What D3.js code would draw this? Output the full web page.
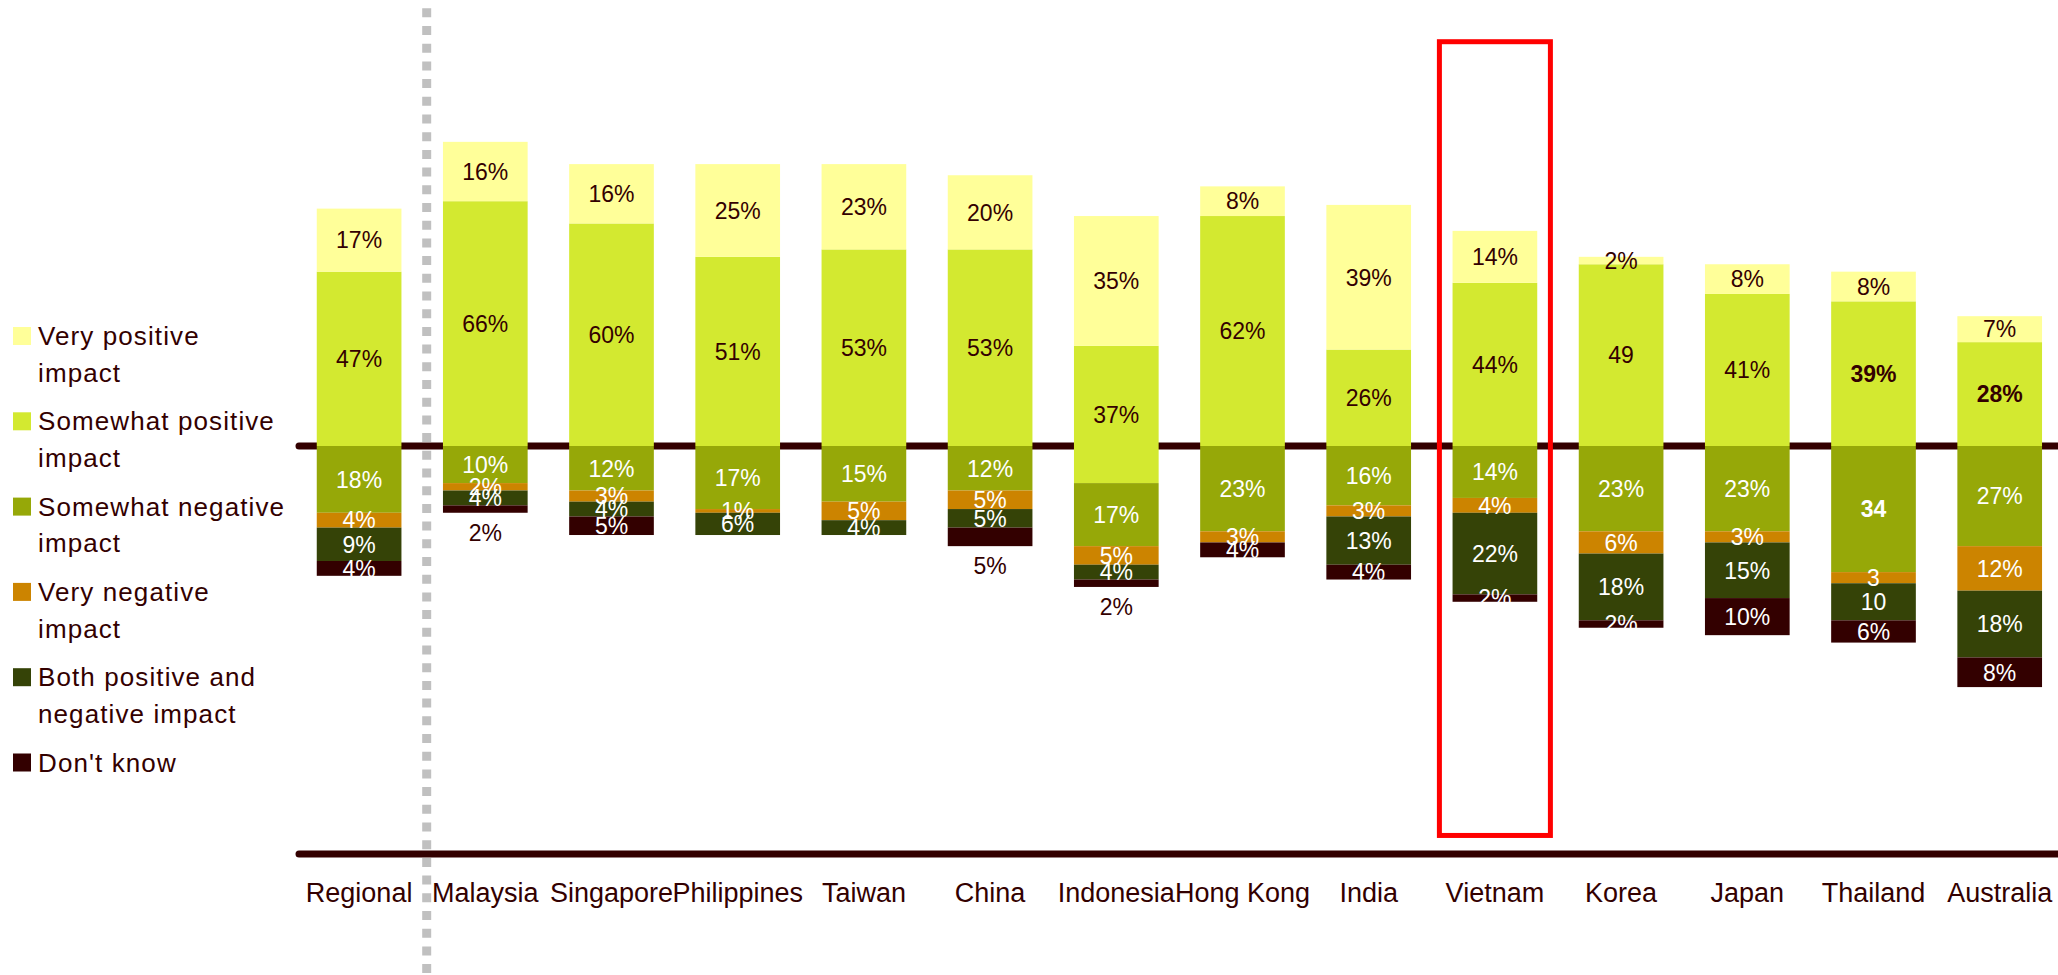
<!DOCTYPE html>
<html>
<head>
<meta charset="utf-8">
<script src="https://cdn.jsdelivr.net/npm/d3@7"></script>
<style>
  html, body { margin: 0; padding: 0; background: #ffffff; }
  svg { display: block; }
  text { font-family: "Liberation Sans", Arial, Helvetica, sans-serif; }
</style>
</head>
<body>
<svg id="chart" width="2058" height="975"></svg>
<script>
// ---------- data ----------
const categories = ["Regional","Malaysia","Singapore","Philippines","Taiwan","China","Indonesia","Hong Kong","India","Vietnam","Korea","Japan","Thailand","Australia"];
const veryPositive     = [17,16,16,25,23,20,35, 8,39,14, 2, 8, 8, 7];
const somewhatPositive = [47,66,60,51,53,53,37,62,26,44,49,41,39,28];
const somewhatNegative = [18,10,12,17,15,12,17,23,16,14,23,23,34,27];
const veryNegative     = [ 4, 2, 3, 1, 5, 5, 5, 3, 3, 4, 6, 3, 3,12];
const bothImpact       = [ 9, 4, 4, 6, 4, 5, 4, 0,13,22,18,15,10,18];
const dontKnow         = [ 4, 2, 5, 0, 0, 5, 2, 4, 4, 2, 2,10, 6, 8];
// hidden base offset of each stacked bar (Indonesia is drawn shifted down in the original)
const baseOffset       = [ 0, 0, 0, 0, 0, 0,-10, 0, 0, 0, 0, 0, 0, 0];

const seriesNames = ["Very positive impact","Somewhat positive impact","Somewhat negative impact","Very negative impact","Both positive and negative impact","Don't know"];
const legendLines = [["Very positive","impact"],["Somewhat positive","impact"],["Somewhat negative","impact"],["Very negative","impact"],["Both positive and","negative impact"],["Don't know"]];
const seriesColors = ["#FFFF99","#D3E930","#96A808","#CC8400","#354307","#330000"];

// label text exceptions (original shows some values without "%")
const labelOverrides = {"Korea|1":"49","Thailand|2":"34","Thailand|3":"3","Thailand|4":"10"};
const boldLabels = ["Thailand|1","Thailand|2","Australia|1"];
const outsideLabels = ["Malaysia|5","China|5","Indonesia|5"];
const highlighted = "Vietnam";

// ---------- layout ----------
const W = 2058, H = 975;
const dark = "#330000";
const svg = d3.select("#chart");
svg.append("rect").attr("width", W).attr("height", H).attr("fill", "#fff");

const x = d3.scaleBand().domain(categories).range([296, 2062.8]).paddingInner(0.329).paddingOuter(0.1645);
const y = d3.scaleLinear().domain([-110, 0]).range([854, 446]);

// build stacked segments
const seriesValues = [veryPositive, somewhatPositive, somewhatNegative, veryNegative, bothImpact, dontKnow];
const segments = [];
categories.forEach((c, i) => {
  const base = baseOffset[i];
  // positives stack upward: somewhat positive, then very positive
  let top = base;
  [1, 0].forEach(s => {
    const v = seriesValues[s][i];
    segments.push({cat: c, s, v, y0: top, y1: top + v});
    top += v;
  });
  // negatives stack downward
  let bot = base;
  [2, 3, 4, 5].forEach(s => {
    const v = seriesValues[s][i];
    segments.push({cat: c, s, v, y0: bot - v, y1: bot});
    bot -= v;
  });
});

// zero line (behind bars)
svg.append("line")
  .attr("x1", 299).attr("x2", W + 10)
  .attr("y1", y(0)).attr("y2", y(0))
  .attr("stroke", dark).attr("stroke-width", 7).attr("stroke-linecap", "round");

// bars
svg.append("g").selectAll("rect").data(segments.filter(d => d.v > 0)).join("rect")
  .attr("x", d => x(d.cat))
  .attr("width", x.bandwidth())
  .attr("y", d => y(d.y1))
  .attr("height", d => y(d.y0) - y(d.y1))
  .attr("fill", d => seriesColors[d.s]);

// labels
const fs = 23;
svg.append("g").selectAll("text").data(segments.filter(d => d.v > 0)).join("text")
  .attr("x", d => x(d.cat) + x.bandwidth() / 2)
  .attr("y", d => {
    const key = d.cat + "|" + d.s;
    const cy = outsideLabels.includes(key) ? y(d.y0) + 20 : (y(d.y0) + y(d.y1)) / 2;
    return cy + fs * 0.36;
  })
  .attr("text-anchor", "middle")
  .attr("font-size", fs)
  .attr("font-weight", d => boldLabels.includes(d.cat + "|" + d.s) ? "bold" : "normal")
  .attr("fill", d => {
    const key = d.cat + "|" + d.s;
    if (outsideLabels.includes(key)) return dark;
    return d.s <= 1 ? dark : "#ffffff";
  })
  .text(d => labelOverrides[d.cat + "|" + d.s] ?? (d.v + "%"));

// bottom axis line
svg.append("line")
  .attr("x1", 299).attr("x2", W + 10)
  .attr("y1", y(-110)).attr("y2", y(-110))
  .attr("stroke", dark).attr("stroke-width", 7).attr("stroke-linecap", "round");

// category labels
const xAxis = d3.axisBottom(x).tickSize(0).tickPadding(0);
const gx = svg.append("g").attr("transform", `translate(0, ${y(-110)})`).call(xAxis);
gx.select(".domain").remove();
gx.selectAll("text")
  .attr("y", 48).attr("dy", 0)
  .attr("font-size", 27)
  .attr("fill", dark)
  .style("font-family", '"Liberation Sans", Arial, sans-serif');

// dashed separator after Regional
const sepX = (x("Regional") + x.bandwidth() + x("Malaysia")) / 2 + 4.5;
svg.append("line")
  .attr("x1", sepX).attr("x2", sepX)
  .attr("y1", 8.3).attr("y2", H)
  .attr("stroke", "#C0C0C0").attr("stroke-width", 9)
  .attr("stroke-dasharray", "9 8.7");

// highlight box
const hx = x(highlighted) + x.bandwidth() / 2;
svg.append("rect")
  .attr("x", hx - 55.5).attr("width", 111)
  .attr("y", y(109)).attr("height", y(-105) - y(109))
  .attr("fill", "none").attr("stroke", "#FF0000").attr("stroke-width", 5);

// legend
const lg = svg.append("g");
legendLines.forEach((lines, i) => {
  const by = 345 + i * 85.3;
  lg.append("rect").attr("x", 13).attr("y", by - 18).attr("width", 18).attr("height", 18)
    .attr("fill", seriesColors[i]);
  lines.forEach((t, j) => {
    lg.append("text").attr("x", 38).attr("y", by + j * 36.7)
      .attr("font-size", 26).attr("letter-spacing", "1.1px")
      .attr("fill", dark).text(t);
  });
});
</script>
</body>
</html>
